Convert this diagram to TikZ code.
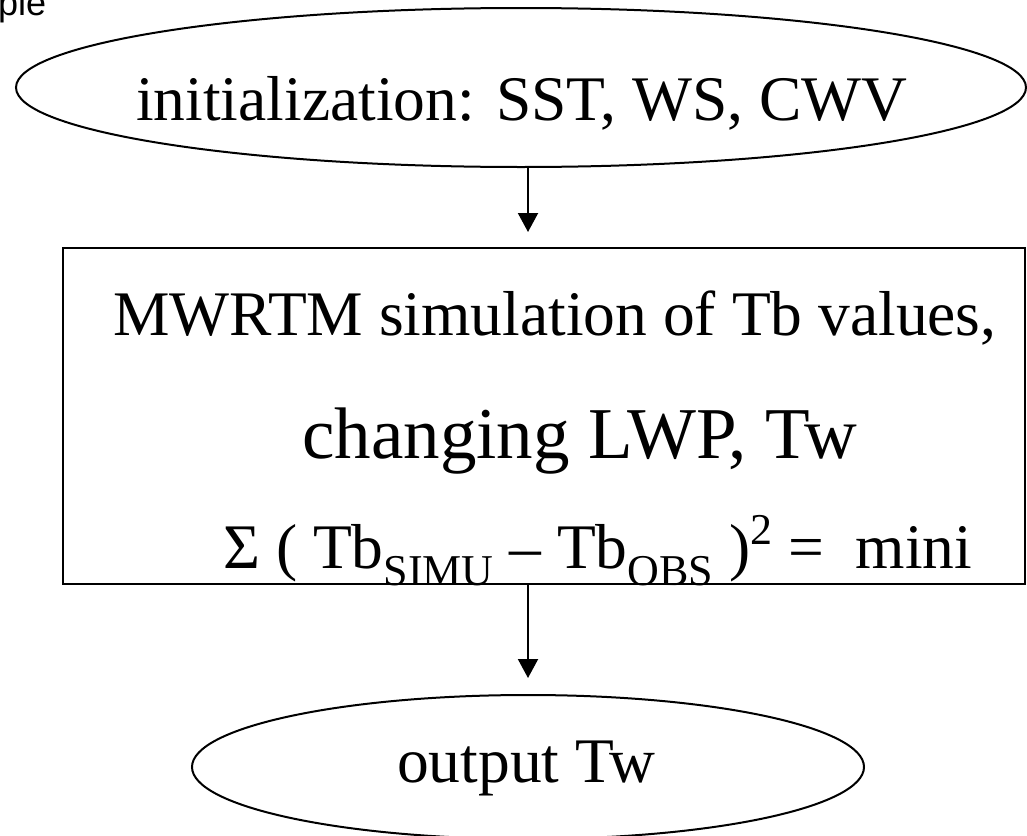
\documentclass[tikz,border=0pt]{standalone}
\usepackage{fontspec}
\setmainfont{Liberation Serif}
\newfontfamily\arialfont{Liberation Sans}
\usetikzlibrary{arrows.meta,shapes.geometric}
\newcommand{\subtxt}[1]{{\fontsize{44}{50}\selectfont\raisebox{-17pt}{#1}}}
\newcommand{\suptxt}[1]{{\fontsize{44}{50}\selectfont\raisebox{24pt}{#1}}}
\begin{document}
\begin{tikzpicture}[x=1pt,y=-1pt,
  shapeline/.style={draw=black,line width=2pt,inner sep=0pt},
  oval/.style={shapeline,ellipse},
  boxshape/.style={shapeline,rectangle},
  flow/.style={line width=2pt,-{Triangle[width=20pt,length=19pt]}},
  txt/.style={anchor=base west,inner sep=0pt,font=\fontsize{63.5}{70}\selectfont},
  bigtxt/.style={anchor=base west,inner sep=0pt,font=\fontsize{73}{80}\selectfont}]
\useasboundingbox (0,0) rectangle (1027,835);
\node[oval,minimum width=1010pt,minimum height=159pt] (init) at (521,87.5) {};
\node[boxshape,minimum width=962pt,minimum height=336pt] (sim) at (544,416) {};
\node[oval,minimum width=672pt,minimum height=144pt] (out) at (528,767) {};
\coordinate (a1end) at (528,232);
\coordinate (a2end) at (528,678);
\draw[flow] (init.south -| a1end) -- (a1end);
\draw[flow] (sim.south -| a2end) -- (a2end);
\node[txt] (t1) at (136,120) {initialization: SST, WS, CWV};
\node[txt] (t2) at (113,335) {MWRTM simulation of Tb values,};
\node[bigtxt] (t3) at (302,458) {changing LWP, Tw};
\node[txt] (t4) at (223,568) {Σ ( Tb\subtxt{SIMU} – Tb\subtxt{OBS} )\suptxt{2} = \ mini};
\node[txt] (t5) at (397,782) {output Tw};
\node[anchor=base west,inner sep=0pt,font=\arialfont\fontsize{36}{40}\selectfont] (t0) at (-2,15) {ple};
\end{tikzpicture}
\end{document}
